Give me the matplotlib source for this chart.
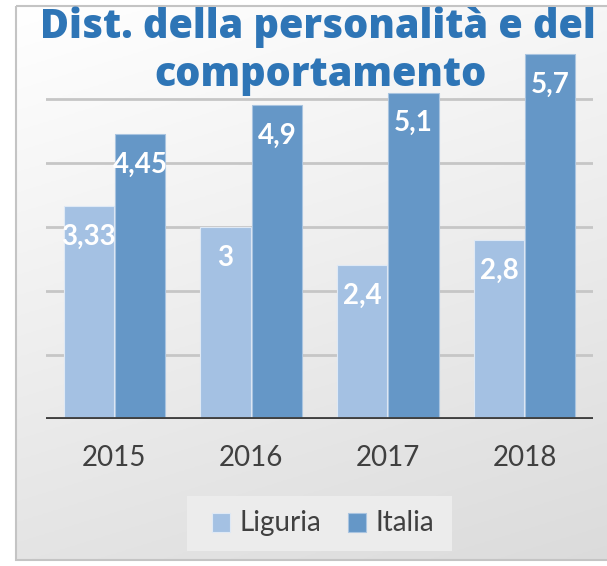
import numpy as np
import matplotlib
matplotlib.use('Agg')
import matplotlib.pyplot as plt
from matplotlib.patches import Rectangle

# data
years = ['2015', '2016', '2017', '2018']
liguria = [3.33, 3.0, 2.4, 2.8]
italia = [4.45, 4.9, 5.1, 5.7]
lig_labels = ['3,33', '3', '2,4', '2,8']
ita_labels = ['4,45', '4,9', '5,1', '5,7']
title_lines = ['Dist. della personalità e del', 'comportamento']

W, H = 607, 566
fig = plt.figure(figsize=(W / 100, H / 100), dpi=100)

# background gradient + frame
bg = fig.add_axes([0, 0, 1, 1], zorder=0)
bg.set_xlim(0, W)
bg.set_ylim(H, 0)
bg.axis('off')
yy, xx = np.mgrid[0:1:200j, 0:1:200j]
g = 1.0 - 0.14 * (0.75 * yy + 0.25 * xx)
bg.imshow(np.dstack([g, g, g]), extent=(15, W + 5, 560, 6), aspect='auto', zorder=0)
bg.add_patch(Rectangle((15.5, 5.5), W, 554, fill=False, ec='#c4c4c4', lw=1.5, zorder=1))

# legend box
bg.add_patch(Rectangle((187, 496), 265, 55, fc='#ececec', ec='none', zorder=1))

ax = fig.add_axes([46 / W, 1 - 419 / H, 547 / W, 384 / H], zorder=2)
ax.patch.set_alpha(0)
ax.set_xlim(-0.5, 3.5)
ax.set_ylim(0, 6)

x = np.arange(len(years))
w = 0.368
off = 0.188
ax.bar(x - off, liguria, w, color='#a4c1e3', edgecolor='#dfe9f5', lw=0.8, zorder=3, label='Liguria')
ax.bar(x + off, italia, w, color='#6597c7', edgecolor='#a9c4e0', lw=0.8, zorder=3, label='Italia')

for i in range(len(years)):
    ax.text(x[i] - off, liguria[i] - 0.48, lig_labels[i], ha='center', va='center',
            color='white', fontsize=20, fontweight='bold', family='Lato', zorder=5)
    ax.text(x[i] + off, italia[i] - 0.48, ita_labels[i], ha='center', va='center',
            color='white', fontsize=20, fontweight='bold', family='Lato', zorder=5)

for v in [1, 2, 3, 4, 5]:
    ax.axhline(v, color='#c6c6c6', lw=2, zorder=1)
ax.axhline(0, color='#404040', lw=3.5, zorder=4)

for s in ax.spines.values():
    s.set_visible(False)
ax.set_yticks([])
ax.set_xticks(x)
ax.set_xticklabels(years, fontsize=20, family='Lato', color='#404040')
ax.tick_params(axis='x', length=0, pad=19)

# legend
bg.add_patch(Rectangle((212, 513), 18, 19, fc='#a4c1e3', ec='#dfe9f5', lw=0.8, zorder=2))
bg.add_patch(Rectangle((348, 513), 18, 19, fc='#6597c7', ec='#a9c4e0', lw=0.8, zorder=2))
bg.text(239, 523, 'Liguria', fontsize=20, family='Lato', color='#404040', va='center', ha='left', zorder=3)
bg.text(375, 523, 'Italia', fontsize=20, family='Lato', color='#404040', va='center', ha='left', zorder=3)

# title, two lines
bg.text(318, 38, title_lines[0], ha='center', va='baseline', fontsize=28.5,
        fontweight='heavy', family='Open Sans', color='#2e75b6', zorder=10)
bg.text(321, 86, title_lines[1], ha='center', va='baseline', fontsize=28.5,
        fontweight='heavy', family='Open Sans', color='#2e75b6', zorder=10)

fig.savefig('out.png', dpi=100)
